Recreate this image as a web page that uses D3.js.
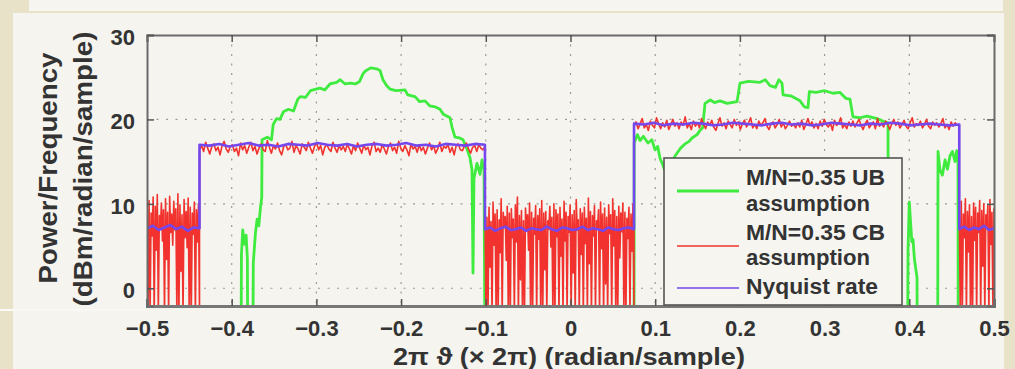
<!DOCTYPE html>
<html>
<head>
<meta charset="utf-8">
<script src="https://cdn.jsdelivr.net/npm/d3@7"></script>
<style>
  html, body { margin: 0; padding: 0; background: #e8e2c8; }
  svg { display: block; }
  text { font-family: "Liberation Sans", Arial, Helvetica, sans-serif; font-weight: bold; fill: #333; }
</style>
</head>
<body>
<div id="chart"></div>
<script>
// axis ticks
const freqTicks = [-0.5, -0.4, -0.3, -0.2, -0.1, 0, 0.1, 0.2, 0.3, 0.4, 0.5];
const powerTicks = [0, 10, 20, 30];

// band edges of the spectrum (frequency, x 2pi)
const bandEdges = [-0.5, -0.438, -0.101, 0.075, 0.459, 0.5];

// M/N=0.35 CB assumption (red), one array per band, evenly spaced in frequency
const redBand0 = [9.5, -3, 10.4, -3, 8.9, 6.2, 10.8, -3, 9.7, 4.5, 11.1, -3, 8.6, 7.0, 10.1, 5.6, 9.3, -3,
  10.6, 3.4, 9.0, -3, 10.9, 6.6, 8.8, 5.1, 10.3, 6.9, 9.4, -3, 11.2, -3, 9.9, 2.0, 8.7, -3, 10.5, 6.0, 9.1, 4.8,
  10.7, -3, 9.6, -3, 8.9, 6.4, 10.2, -3, 9.3, 5.5, 10.0, -3];
const redBand1 = [16.4, 16.9, 16.2, 17.3, 16.6, 15.9, 16.8, 17.1, 16.3, 16.7,
  15.8, 16.9, 17.4, 16.5, 16.1, 16.8, 17.0, 16.2, 16.6, 15.7,
  17.2, 16.4, 16.9, 16.0, 16.7, 17.3, 16.3, 16.8, 15.9, 16.6,
  17.1, 16.4, 16.2, 17.5, 16.7, 16.0, 16.9, 16.5, 17.2, 16.3,
  15.8, 16.8, 17.0, 16.4, 16.6, 17.4, 16.1, 16.9, 16.5, 15.9,
  17.1, 16.7, 16.3, 17.3, 16.6, 16.0, 16.8, 17.2, 16.4, 16.9,
  15.8, 16.7, 17.0, 16.5, 16.2, 17.3, 16.6, 16.1, 16.9, 16.4,
  16.8, 16.2, 17.1, 16.5, 15.9, 16.9, 16.3, 17.2, 16.6, 16.0,
  17.0, 16.4, 16.7, 15.8, 16.9, 17.3, 16.2, 16.6, 16.1, 17.0,
  16.5, 15.9, 16.8, 17.2, 16.3, 16.7, 16.0, 17.4, 16.6, 16.2,
  16.9, 16.4, 15.7, 17.1, 16.5, 16.8, 16.1, 17.0, 16.3, 16.7,
  15.9, 16.6, 17.2, 16.4, 16.9, 16.0, 16.5, 17.3, 16.2, 16.8,
  16.6, 17.0, 16.1, 16.7, 15.8, 16.9, 17.1, 16.4, 16.3, 16.8,
  17.2, 16.5, 16.0, 16.7, 16.9, 16.2, 17.0, 16.6, 16.4, 16.8];
const redBand2 = [9.1, -3, 8.4, -3, 9.6, 2.5, 7.9, -3, 10.2, 5.1,
  8.8, -3, 9.3, -3, 8.1, 4.2, 10.6, -3, 9.0, 7.2,
  8.5, 3.3, 9.7, -3, 8.9, -3, 9.4, 6.0, 8.2, -3,
  9.9, 5.5, 10.8, -3, 8.6, 1.0, 9.2, -3, 8.0, -3,
  9.5, 6.8, 8.7, 4.5, 10.1, -3, 9.0, -3, 8.3, 6.4,
  9.8, -3, 8.6, 5.8, 9.4, -3, 10.4, -3, 8.9, 2.2,
  9.1, -3, 8.0, 7.0, 9.7, 4.9, 8.4, -3, 10.0, -3,
  9.3, 6.1, 8.8, -3, 9.6, 3.8, 8.2, -3, 10.3, 5.6,
  9.0, -3, 8.5, 6.6, 9.9, -3, 8.7, 1.8, 9.2, -3,
  10.5, 6.9, 8.1, -3, 9.4, 4.0, 8.9, -3, 9.6, 5.3,
  8.3, -3, 10.7, 2.9, 9.1, -3, 8.6, 6.2, 9.8, -3,
  8.0, 7.1, 9.3, -3, 10.2, 4.7, 8.8, -3, 9.5, 0.5,
  8.4, -3, 9.9, 6.5, 8.7, -3, 10.6, 5.0, 9.2, -3,
  8.5, -3, 9.7, 3.6, 8.9, 6.7, 10.1, -3, 9.0, -3,
  8.3, 5.9, 9.6, -3, 8.8, 4.4, 10.0, -3];
const redBand3 = [19.2, 19.7, 18.9, 19.5, 20.1, 19.0, 19.4, 18.7, 19.8, 19.3,
  19.0, 20.2, 19.5, 18.9, 19.6, 19.1, 19.9, 18.8, 19.4, 20.0,
  19.2, 19.6, 18.9, 19.7, 19.3, 20.3, 19.0, 19.5, 18.8, 19.8,
  19.2, 19.6, 19.0, 20.1, 19.4, 18.9, 19.7, 19.3, 19.9, 19.1,
  18.7, 19.5, 20.2, 19.2, 19.6, 18.9, 19.8, 19.4, 19.0, 20.0,
  19.3, 19.7, 18.8, 19.5, 19.9, 19.1, 19.6, 20.2, 19.0, 19.4,
  18.9, 19.8, 19.3, 19.6, 20.1, 19.2, 18.8, 19.5, 19.7, 19.0,
  19.4, 20.0, 19.1, 19.6, 18.9, 19.3, 19.8, 19.2, 19.5, 19.0,
  19.6, 19.1, 19.9, 18.8, 19.4, 20.1, 19.3, 19.7, 19.0, 19.5,
  18.9, 19.8, 19.2, 20.0, 19.4, 19.1, 19.6, 18.7, 19.9, 19.3,
  19.5, 20.2, 19.0, 19.4, 18.9, 19.7, 19.2, 19.8, 19.1, 19.6,
  20.0, 19.3, 18.8, 19.5, 19.9, 19.0, 19.4, 19.7, 18.9, 20.1,
  19.2, 19.6, 19.1, 19.8, 19.4, 18.8, 19.5, 20.0, 19.3, 19.7,
  19.0, 19.4, 19.9, 19.2, 18.9, 19.6, 20.2, 19.1, 19.5, 19.3,
  19.8, 19.0, 19.4, 20.0, 19.2, 18.9, 19.7, 19.3, 19.6, 19.1,
  19.5, 20.1, 19.0, 19.4, 18.8, 19.7, 19.2, 19.6, 19.3, 19.4];
const redBand4 = [9.4, -3, 10.3, -3, 8.8, 6.0, 10.6, -3, 9.1, 4.3, 9.9, -3, 8.5, -3, 10.1, 5.7, 9.6, -3, 8.9, 6.6,
  10.4, -3, 9.2, 2.6, 10.0, -3, 8.7, 7.4, 9.8, -3, 10.5, 5.2, 9.0, -3, 9.5];

// Nyquist rate (blue), one array per band
const blueBand0 = [7.1, 7.4, 6.9, 7.2, 7.5, 7.0, 7.3, 6.8, 7.2, 7.1];
const blueBand1 = [17.0, 16.9, 17.1, 16.8, 17.0, 17.2, 16.9, 17.0, 16.8, 17.1, 17.0, 16.9, 17.2, 17.0, 16.9,
  17.1, 16.8, 17.0, 17.1, 16.9, 17.0, 17.2, 16.9, 17.0, 16.8, 17.1, 17.0, 16.9, 17.1, 17.0];
const blueBand2 = [7.0, 7.2, 6.8, 7.1, 7.3, 6.9, 7.0, 7.2, 6.8, 7.1, 7.0, 6.9, 7.3, 7.0, 6.8, 7.2, 7.1, 6.9, 7.0,
  7.3, 6.9, 7.1, 7.0, 6.8, 7.2, 7.0, 6.9, 7.1, 7.2, 7.0];
const blueBand3 = [19.5, 19.4, 19.6, 19.3, 19.5, 19.4, 19.6, 19.5, 19.3, 19.4, 19.6, 19.5, 19.4, 19.3, 19.5, 19.6,
  19.4, 19.5, 19.3, 19.4, 19.6, 19.5, 19.4, 19.3, 19.5, 19.4, 19.6, 19.5, 19.3, 19.4, 19.5, 19.4, 19.3, 19.4];
const blueBand4 = [7.0, 7.3, 6.9, 7.2, 7.0, 7.4, 6.9, 7.1];

// M/N=0.35 UB assumption (green), [frequency, power]
const greenPts = [
  [-0.5, -8], [-0.389, -8], [-0.3885, 4], [-0.387, 6.9], [-0.385, 5.2], [-0.383, 6.3], [-0.3815, 3.5], [-0.381, -8],
  [-0.375, -8], [-0.3745, 3], [-0.372, 6.5], [-0.370, 8.2], [-0.368, 7.4], [-0.366, 9.6], [-0.3645, 10.8],
  [-0.3642, 17.6], [-0.358, 17.9], [-0.353, 17.6], [-0.351, 19.4], [-0.347, 20.1], [-0.343, 20.0], [-0.339, 20.9],
  [-0.333, 21.2], [-0.327, 21.0], [-0.322, 22.4], [-0.319, 22.7], [-0.313, 22.6], [-0.307, 23.4], [-0.296, 23.7],
  [-0.290, 23.5], [-0.284, 24.2], [-0.276, 24.4], [-0.272, 24.7], [-0.266, 24.2], [-0.260, 24.3], [-0.254, 24.2],
  [-0.249, 24.5], [-0.245, 25.4], [-0.2426, 25.7], [-0.236, 26.1], [-0.229, 26.0], [-0.2249, 25.8], [-0.2214, 24.7],
  [-0.217, 24.0], [-0.2131, 23.6], [-0.206, 23.4], [-0.1954, 23.5], [-0.192, 22.9], [-0.1836, 22.7], [-0.178, 22.1],
  [-0.1718, 22.2], [-0.166, 21.6], [-0.160, 21.5], [-0.1541, 21.2], [-0.150, 20.6], [-0.1423, 20.2], [-0.1399, 19.1],
  [-0.1364, 17.9], [-0.131, 17.8], [-0.1269, 17.6], [-0.1222, 16.5], [-0.1187, 15.5], [-0.1163, 14.0], [-0.1151, 1.8],
  [-0.1140, 13.0], [-0.1104, 14.8], [-0.1068, 13.5], [-0.1045, 15.2], [-0.1021, 14.0], [-0.1010, -8],
  [0.0750, -8], [0.0752, 17.2], [0.0790, 18.2], [0.0821, 17.5], [0.0860, 18.0], [0.0915, 17.2], [0.0960, 17.6],
  [0.0998, 16.4], [0.1030, 16.8], [0.1057, 15.4], [0.1090, 14.6], [0.1116, 13.9], [0.1150, 14.8], [0.1198, 14.2],
  [0.1230, 15.6], [0.1257, 16.0], [0.1300, 16.6], [0.1352, 17.1], [0.1400, 17.4], [0.1435, 17.8], [0.1494, 18.2],
  [0.1529, 18.7], [0.1560, 19.0], [0.1588, 21.9], [0.1650, 22.3], [0.1700, 22.0], [0.1765, 22.2], [0.1850, 21.9],
  [0.1966, 22.1], [0.2001, 24.3], [0.2100, 24.5], [0.2237, 24.4], [0.2300, 24.7], [0.2355, 24.0], [0.2420, 23.8],
  [0.2460, 24.7], [0.2497, 24.3], [0.2510, 22.9], [0.2600, 22.8], [0.2710, 22.2], [0.2760, 21.5], [0.2804, 21.4],
  [0.2820, 23.3], [0.2900, 23.2], [0.3000, 23.4], [0.3100, 23.1], [0.3182, 23.2], [0.3250, 22.5], [0.3300, 22.4],
  [0.3335, 20.3], [0.3420, 20.2], [0.3500, 20.4], [0.3620, 20.1], [0.3713, 19.7], [0.3749, 19.6], [0.3752, -8],
  [0.3980, -8], [0.3985, 4.5], [0.4000, 10.2], [0.4015, 7.8], [0.4030, 5.5], [0.4044, 5.8], [0.4060, 3.5],
  [0.4075, 2.4], [0.4091, 1.3], [0.4095, -8], [0.4335, -8], [0.4339, 16.2], [0.4362, 14.0], [0.4390, 13.4],
  [0.4422, 15.2], [0.4450, 14.1], [0.4481, 15.7], [0.4510, 16.2], [0.4540, 15.0], [0.4560, 16.3], [0.4575, 15.8],
  [0.4578, -8], [0.5, -8]
];

const legendLabels = [["M/N=0.35 UB", "assumption"], ["M/N=0.35 CB", "assumption"], ["Nyquist rate"]];
const colors = { green: "#3feb3f", red: "#f2332d", blue: "#7447ee" };

const W = 1015, H = 369;
const margin = { top: 35, right: 21, bottom: 63, left: 147 };
const width = W - margin.left - margin.right;
const height = H - margin.top - margin.bottom;

const svg = d3.select("#chart").append("svg")
  .attr("width", W)
  .attr("height", H);

// slide background (photo of a slide)
svg.append("rect").attr("width", W).attr("height", H).attr("fill", "#e8e2c8");
svg.append("rect").attr("x", 29).attr("y", 0).attr("width", 974).attr("height", 11).attr("fill", "#f6f5ef");
svg.append("rect").attr("x", 13).attr("y", 13).attr("width", 991).attr("height", H - 13).attr("fill", "#f5f4ee");
svg.append("line").attr("x1", 0).attr("x2", 13).attr("y1", 310).attr("y2", 310)
  .attr("stroke", "#fbfaf6").attr("stroke-width", 2);
svg.append("line").attr("x1", 13).attr("x2", 145).attr("y1", 310).attr("y2", 310)
  .attr("stroke", "#fbfaf7").attr("stroke-width", 1.5);

const defs = svg.append("defs");
defs.append("filter").attr("id", "soft")
  .append("feGaussianBlur").attr("stdDeviation", 0.45);

const g = svg.append("g").attr("transform", `translate(${margin.left},${margin.top})`);

const x = d3.scaleLinear().domain([-0.5, 0.5]).range([0, width]);
const y = d3.scaleLinear().domain([-2.1, 30]).range([height, 0]);

// grid (dotted)
g.append("g").selectAll("line").data(freqTicks.slice(1, -1)).join("line")
  .attr("x1", d => x(d)).attr("x2", d => x(d)).attr("y1", 0).attr("y2", height)
  .attr("stroke", "#9a9a9a").attr("stroke-width", 1.2).attr("stroke-dasharray", "2,7.5");
g.append("g").selectAll("line").data(powerTicks.filter(d => d < 30)).join("line")
  .attr("x1", 0).attr("x2", width).attr("y1", d => y(d)).attr("y2", d => y(d))
  .attr("stroke", "#9a9a9a").attr("stroke-width", 1.2).attr("stroke-dasharray", "2,7.5");

// build series from band arrays
function bandSeries(bands) {
  const pts = [];
  bands.forEach((vals, i) => {
    const lo = bandEdges[i], hi = bandEdges[i + 1];
    const step = (hi - lo) / (vals.length - 1);
    vals.forEach((v, j) => pts.push([lo + j * step, v]));
  });
  return pts;
}
const redPts = bandSeries([redBand0, redBand1, redBand2, redBand3, redBand4]);
const bluePts = bandSeries([blueBand0, blueBand1, blueBand2, blueBand3, blueBand4]);

defs.append("clipPath").attr("id", "plotclip")
  .append("rect").attr("width", width).attr("height", height);

const line = d3.line().x(d => x(d[0])).y(d => y(d[1]));
const plot = g.append("g").attr("clip-path", "url(#plotclip)")
  .append("g").attr("filter", "url(#soft)");

plot.append("path").datum(greenPts).attr("d", line)
  .attr("fill", "none").attr("stroke", colors.green).attr("stroke-width", 2.8).attr("stroke-linejoin", "round");
plot.append("path").datum(redPts).attr("d", line)
  .attr("fill", "none").attr("stroke", colors.red).attr("stroke-width", 1.6).attr("stroke-linejoin", "round");
plot.append("path").datum(bluePts).attr("d", line)
  .attr("fill", "none").attr("stroke", colors.blue).attr("stroke-width", 2.6).attr("stroke-linejoin", "round");

// axes box with inward ticks
const xAxis = g.append("g").attr("transform", `translate(0,${height})`)
  .call(d3.axisBottom(x).tickValues(freqTicks).tickSize(-7).tickPadding(14)
    .tickFormat(d => d === 0 ? "0" : (d < 0 ? "\u2212" : "") + Math.abs(d)));
const xAxisTop = g.append("g")
  .call(d3.axisTop(x).tickValues(freqTicks).tickSize(-7).tickFormat(""));
const yAxis = g.append("g")
  .call(d3.axisLeft(y).tickValues(powerTicks).tickSize(-7).tickPadding(12));
const yAxisRight = g.append("g").attr("transform", `translate(${width},0)`)
  .call(d3.axisRight(y).tickValues(powerTicks).tickSize(-7).tickFormat(""));

[xAxis, xAxisTop, yAxis, yAxisRight].forEach(a => {
  a.select(".domain").attr("stroke", "#6a6a6a").attr("stroke-width", 2);
  a.selectAll(".tick line").attr("stroke", "#555").attr("stroke-width", 1.5);
  a.selectAll("text").attr("font-size", 22).attr("font-family", null).attr("fill", "#333");
});
xAxis.select(".domain").attr("stroke-width", 3).attr("stroke", "#777");
yAxis.selectAll(".tick text").attr("dy", "0.42em");

// axis labels
svg.append("text")
  .attr("x", 569).attr("y", 365)
  .attr("text-anchor", "middle").attr("font-size", 24)
  .attr("textLength", 352).attr("lengthAdjust", "spacingAndGlyphs")
  .text("2\u03c0 \u03d1 (\u00d7 2\u03c0) (radian/sample)");

svg.append("text")
  .attr("transform", "translate(48,168) rotate(-90)")
  .attr("text-anchor", "middle").attr("font-size", 25)
  .attr("dy", "0.35em")
  .attr("textLength", 231).attr("lengthAdjust", "spacingAndGlyphs")
  .text("Power/Frequency");
svg.append("text")
  .attr("transform", "translate(83,169) rotate(-90)")
  .attr("text-anchor", "middle").attr("font-size", 25)
  .attr("dy", "0.35em")
  .attr("textLength", 275).attr("lengthAdjust", "spacingAndGlyphs")
  .text("(dBm/radian/sample)");

// legend
const leg = svg.append("g");
leg.append("rect").attr("x", 664).attr("y", 158).attr("width", 238).attr("height", 147)
  .attr("fill", "#f6f5f0").attr("stroke", "#555").attr("stroke-width", 1.6);

const legendEntries = [
  { color: colors.green, lineY: 191, widthLine: 3, baselines: [185, 211], lengths: [139, 124] },
  { color: colors.red, lineY: 246, widthLine: 1.6, baselines: [240, 265], lengths: [139, 124] },
  { color: colors.blue, lineY: 288, widthLine: 1.6, baselines: [294], lengths: [132] }
];
legendEntries.forEach((e, i) => {
  leg.append("line").attr("x1", 677).attr("x2", 739).attr("y1", e.lineY).attr("y2", e.lineY)
    .attr("stroke", e.color).attr("stroke-width", e.widthLine);
  legendLabels[i].forEach((t, k) => {
    leg.append("text").attr("x", 746).attr("y", e.baselines[k]).attr("font-size", 22)
      .attr("textLength", e.lengths[k]).attr("lengthAdjust", "spacingAndGlyphs").text(t);
  });
});
</script>
</body>
</html>
